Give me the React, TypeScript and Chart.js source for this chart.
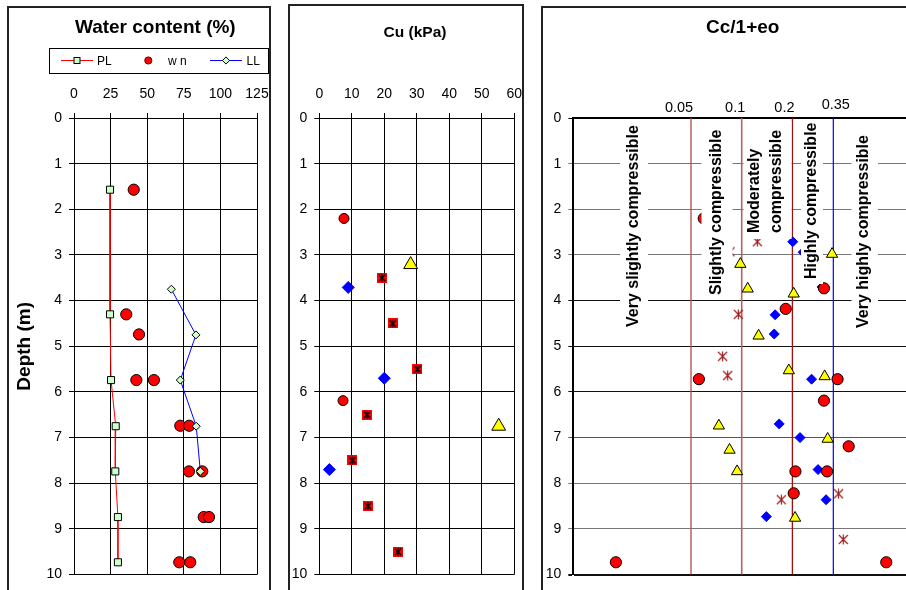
import React, { useEffect, useRef } from 'react';
import { Chart, registerables } from 'chart.js';

Chart.register(...registerables);

const FONT = "'Liberation Sans', Arial, Helvetica, sans-serif";
Chart.defaults.font.family = FONT;
Chart.defaults.color = '#000';

// ---------- shared depth axis ----------
const depthAxisTicks = [0, 1, 2, 3, 4, 5, 6, 7, 8, 9, 10];

// ---------- Panel 1: Water content (%) ----------
const wcAxisTicks = [0, 25, 50, 75, 100, 125];
const plValues = [24.6, 24.6, 25.3, 28.5, 28.2, 30.0, 30.0];
const plDepths = [1.57, 4.3, 5.74, 6.75, 7.74, 8.74, 9.73];
const wnValues = [40.8, 35.7, 44.4, 42.6, 54.6, 72.6, 78.7, 78.5, 87.6, 88.6, 92.2, 71.9, 79.4];
const wnDepths = [1.57, 4.3, 4.74, 5.74, 5.74, 6.74, 6.74, 7.74, 7.74, 8.74, 8.74, 9.73, 9.73];
const llValues = [66.5, 83.3, 72.6, 83.5, 86.3];
const llDepths = [3.75, 4.75, 5.74, 6.75, 7.74];

// ---------- Panel 2: Cu (kPa) ----------
const cuAxisTicks = [0, 10, 20, 30, 40, 50, 60];
const cuCircleValues = [7.6, 7.3];
const cuCircleDepths = [2.2, 6.19];
const cuTriangleValues = [28.1, 55.2];
const cuTriangleDepths = [3.21, 6.75];
const cuSquareValues = [19.3, 22.6, 30.2, 14.7, 10.2, 15.0, 24.2];
const cuSquareDepths = [3.5, 4.5, 5.5, 6.5, 7.5, 8.5, 9.5];
const cuDiamondValues = [8.9, 20.0, 3.1];
const cuDiamondDepths = [3.71, 5.7, 7.7];

// ---------- Panel 3: Cc/1+eo ----------
const ccBounds = [0.05, 0.1, 0.2, 0.35];
const ccBoundLabels = ['0.05', '0.1', '0.2', '0.35'];
const ccClasses = [
  ['Very slightly compressible'],
  ['Slightly compressible'],
  ['Moderately', 'compressible'],
  ['Highly compressible'],
  ['Very highly compressible'],
];
const ccCircleValues = [0.0595, 0.308, 0.1825, 0.0557, 0.371, 0.308, 0.432, 0.2085, 0.3215, 0.2036, 0.0179, 0.722];
const ccCircleDepths = [2.2, 3.73, 4.18, 5.72, 5.72, 6.19, 7.19, 7.74, 7.74, 8.22, 9.73, 9.73];
const ccTriangleValues = [0.344, 0.0982, 0.1086, 0.2036, 0.126, 0.1905, 0.311, 0.0732, 0.324, 0.0847, 0.0939, 0.2075];
const ccTriangleDepths = [2.98, 3.2, 3.74, 3.85, 4.77, 5.53, 5.66, 6.74, 7.03, 7.27, 7.74, 8.76];
const ccDiamondValues = [0.201, 0.2316, 0.3, 0.158, 0.156, 0.26, 0.167, 0.222, 0.284, 0.317, 0.14];
const ccDiamondDepths = [2.71, 2.94, 3.7, 4.31, 4.73, 5.72, 6.7, 7.0, 7.7, 8.36, 8.73];
const ccStarValues = [0.1238, 0.0852, 0.0955, 0.077, 0.0825, 0.376, 0.172, 0.401];
const ccStarDepths = [2.71, 2.93, 4.3, 5.22, 5.64, 8.23, 8.36, 9.23];

// ---------- layout / style constants ----------
const CANVAS1 = { left: 0, width: 280 };
const CANVAS2 = { left: 280, width: 262 };
const CANVAS3 = { left: 542, width: 380 };
const PLOT_TOP = 118;
const PLOT_BOTTOM_PAD = 12;
const ccBoundColors = ['#b04c4c', '#b86060', '#a01010', '#0000ff'];
const ccBoundWidths = [1.3, 1.6, 1.3, 1.2];
const ccLabelOffsets = [[-12, 0], [-6.5, 0], [-8, 0], [2.5, -3]];
// boxes (page coords): x0, x1, y0, y1 ; text column centres and bottom of text
const ccBoxes = [
  { x0: 620, x1: 648, y0: 119, y1: 331, cols: [633], bottom: 327 },
  { x0: 701.5, x1: 732.5, y0: 121, y1: 299, cols: [716], bottom: 295 },
  { x0: 743.5, x1: 791.5, y0: 121, y1: 239, cols: [754, 776], bottom: 233 },
  { x0: 801, x1: 823, y0: 119, y1: 284, cols: [811], bottom: 279 },
  { x0: 851.5, x1: 878, y0: 121, y1: 333, cols: [862.5], bottom: 328 },
];

const pts = (xs: number[], ys: number[]) => xs.map((x, i) => ({ x, y: ys[i] }));
const axisFont = { family: FONT, size: 14 };

function makeStar(size: number, color: string, lw: number, arm: number, bg?: string) {
  const c = document.createElement('canvas');
  c.width = size;
  c.height = size;
  const g = c.getContext('2d')!;
  if (bg) {
    g.fillStyle = bg;
    g.fillRect(0, 0, size, size);
  }
  const m = size / 2;
  g.strokeStyle = color;
  g.lineWidth = lw;
  g.beginPath();
  g.moveTo(m - arm, m - arm);
  g.lineTo(m + arm, m + arm);
  g.moveTo(m + arm, m - arm);
  g.lineTo(m - arm, m + arm);
  g.moveTo(m, m - arm - 0.5);
  g.lineTo(m, m + arm + 0.5);
  g.stroke();
  return c;
}

function depthScale(width: number, gridColor: any, gridWidth: any, title?: any) {
  return {
    type: 'linear',
    reverse: true,
    min: 0,
    max: 10,
    afterBuildTicks: (s: any) => {
      s.ticks = depthAxisTicks.map((v) => ({ value: v }));
    },
    ticks: { padding: 7, color: '#000', font: axisFont },
    grid: { color: gridColor, lineWidth: gridWidth, tickLength: 5, drawTicks: true },
    border: { color: '#000', width: 1 },
    title: title || { display: false },
    afterFit: (s: any) => {
      s.width = width;
    },
  };
}

function topLinearScale(max: number, tickValues: number[]) {
  return {
    type: 'linear',
    position: 'top',
    min: 0,
    max,
    afterBuildTicks: (s: any) => {
      s.ticks = tickValues.map((v) => ({ value: v }));
    },
    ticks: { padding: 10, color: '#000', font: axisFont },
    grid: { color: '#000', lineWidth: 1, tickLength: 5, drawTicks: true },
    border: { color: '#000', width: 1 },
    afterFit: (s: any) => {
      s.height = PLOT_TOP;
    },
  };
}

const baseOptions = {
  responsive: false,
  animation: false as const,
  events: [] as any[],
  plugins: { legend: { display: false }, tooltip: { enabled: false } },
};

function config1(): any {
  const panelPlugin = {
    id: 'panel1Deco',
    afterDraw(chart: any) {
      const ctx = chart.ctx;
      ctx.save();
      ctx.fillStyle = '#000';
      ctx.font = `bold 19px ${FONT}`;
      ctx.textAlign = 'center';
      ctx.textBaseline = 'middle';
      ctx.fillText('Water content (%)', 155.3, 28);
      // legend
      ctx.lineWidth = 1;
      ctx.strokeStyle = '#000';
      ctx.strokeRect(49.5, 48.5, 219, 25);
      const ly = 60.5;
      ctx.strokeStyle = '#ff0000';
      ctx.beginPath();
      ctx.moveTo(61, ly);
      ctx.lineTo(93, ly);
      ctx.stroke();
      ctx.fillStyle = '#ccffcc';
      ctx.strokeStyle = '#000';
      ctx.fillRect(74, ly - 3, 6, 6);
      ctx.strokeRect(74, ly - 3, 6, 6);
      ctx.beginPath();
      ctx.arc(148.3, ly, 3.6, 0, Math.PI * 2);
      ctx.fillStyle = '#ff0000';
      ctx.fill();
      ctx.strokeStyle = '#600';
      ctx.stroke();
      ctx.strokeStyle = '#0000ff';
      ctx.beginPath();
      ctx.moveTo(210, ly);
      ctx.lineTo(242, ly);
      ctx.stroke();
      ctx.beginPath();
      ctx.moveTo(226, ly - 3.6);
      ctx.lineTo(229.6, ly);
      ctx.lineTo(226, ly + 3.6);
      ctx.lineTo(222.4, ly);
      ctx.closePath();
      ctx.fillStyle = '#ccffcc';
      ctx.fill();
      ctx.strokeStyle = '#000';
      ctx.stroke();
      ctx.fillStyle = '#000';
      ctx.font = `12px ${FONT}`;
      ctx.textAlign = 'left';
      ctx.fillText('PL', 97, ly + 1);
      ctx.fillText('w n', 168, ly + 1);
      ctx.fillText('LL', 246.5, ly + 1);
      ctx.restore();
    },
  };
  return {
    type: 'scatter',
    data: {
      datasets: [
        {
          label: 'LL',
          data: pts(llValues, llDepths),
          showLine: true,
          borderColor: '#0000ff',
          borderWidth: 1,
          tension: 0,
          pointStyle: 'rectRot',
          pointRadius: 4,
          pointBackgroundColor: '#ccffcc',
          pointBorderColor: '#000',
          pointBorderWidth: 1,
          order: 0,
        },
        {
          label: 'PL',
          data: pts(plValues, plDepths),
          showLine: true,
          borderColor: '#ff0000',
          borderWidth: 1,
          tension: 0,
          pointStyle: 'rect',
          pointRadius: 5,
          pointBackgroundColor: '#ccffcc',
          pointBorderColor: '#000',
          pointBorderWidth: 1,
          order: 1,
        },
        {
          label: 'w n',
          data: pts(wnValues, wnDepths),
          showLine: false,
          pointStyle: 'circle',
          pointRadius: 5.6,
          pointBackgroundColor: '#ff0000',
          pointBorderColor: '#000',
          pointBorderWidth: 1,
          order: 2,
        },
      ],
    },
    options: {
      ...baseOptions,
      layout: { padding: { left: 9, top: 0, right: CANVAS1.width - 257, bottom: PLOT_BOTTOM_PAD } },
      scales: {
        x: topLinearScale(125, wcAxisTicks),
        y: depthScale(65, '#000', 1, {
          display: true,
          text: 'Depth (m)',
          color: '#000',
          font: { family: FONT, size: 19, weight: 'bold' },
          padding: { top: 4, bottom: 4 },
        }),
      },
    },
    plugins: [panelPlugin],
  };
}

function config2(): any {
  const squareStar = makeStar(10, '#000', 1.3, 3.2, '#ff0000');
  const panelPlugin = {
    id: 'panel2Deco',
    afterDraw(chart: any) {
      const ctx = chart.ctx;
      ctx.save();
      ctx.fillStyle = '#000';
      ctx.font = `bold 15.5px ${FONT}`;
      ctx.textAlign = 'center';
      ctx.textBaseline = 'middle';
      ctx.fillText('Cu (kPa)', 415 - CANVAS2.left, 32.5);
      ctx.restore();
    },
  };
  return {
    type: 'scatter',
    data: {
      datasets: [
        {
          label: 'circle',
          data: pts(cuCircleValues, cuCircleDepths),
          pointStyle: 'circle',
          pointRadius: 5,
          pointBackgroundColor: '#ff0000',
          pointBorderColor: '#000',
          pointBorderWidth: 1,
        },
        {
          label: 'triangle',
          data: pts(cuTriangleValues, cuTriangleDepths),
          pointStyle: 'triangle',
          pointRadius: 8,
          pointBackgroundColor: '#ffff00',
          pointBorderColor: '#000',
          pointBorderWidth: 1,
        },
        {
          label: 'square',
          data: pts(cuSquareValues, cuSquareDepths),
          pointStyle: squareStar,
          pointRadius: 5,
        },
        {
          label: 'diamond',
          data: pts(cuDiamondValues, cuDiamondDepths),
          pointStyle: 'rectRot',
          pointRadius: 6,
          pointBackgroundColor: '#0000ff',
          pointBorderColor: '#0000ff',
          pointBorderWidth: 1,
        },
      ],
    },
    options: {
      ...baseOptions,
      layout: { padding: { left: 10, top: 0, right: CANVAS2.width - (514.3 - CANVAS2.left), bottom: PLOT_BOTTOM_PAD } },
      scales: {
        x: topLinearScale(60, cuAxisTicks),
        y: depthScale(319.3 - CANVAS2.left - 10, '#000', 1),
      },
    },
    plugins: [panelPlugin],
  };
}

function config3(): any {
  const star = makeStar(11, '#9b1f1f', 1.2, 4.5);
  const gridColor = (c: any) => {
    const v = c.tick ? c.tick.value : 0;
    if (v === 0 || v === 10 || v === 4 || v === 5 || v === 6) return '#111';
    if (v === 7) return '#555';
    return '#777';
  };
  const gridWidth = (c: any) => {
    const v = c.tick ? c.tick.value : 0;
    return v === 10 ? 2 : 1;
  };
  const panelPlugin = {
    id: 'panel3Deco',
    beforeDatasetsDraw(chart: any) {
      const ctx = chart.ctx;
      const xs = chart.scales.x;
      const { top, bottom } = chart.chartArea;
      ctx.save();
      ccBounds.forEach((v, i) => {
        const px = xs.getPixelForValue(v);
        ctx.strokeStyle = ccBoundColors[i];
        ctx.lineWidth = ccBoundWidths[i];
        ctx.beginPath();
        ctx.moveTo(px, top);
        ctx.lineTo(px, bottom);
        ctx.stroke();
      });
      ctx.restore();
    },
    afterDatasetsDraw(chart: any) {
      const ctx = chart.ctx;
      const ox = CANVAS3.left;
      ctx.save();
      ccBoxes.forEach((b, i) => {
        ctx.fillStyle = '#fff';
        ctx.fillRect(b.x0 - ox, b.y0, b.x1 - b.x0, b.y1 - b.y0);
        ctx.fillStyle = '#000';
        ctx.font = `bold 16px ${FONT}`;
        ctx.textAlign = 'left';
        ctx.textBaseline = 'middle';
        ccClasses[i].forEach((line, j) => {
          ctx.save();
          ctx.translate(b.cols[j] - ox, b.bottom);
          ctx.rotate(-Math.PI / 2);
          ctx.fillText(line, 0, 1);
          ctx.restore();
        });
      });
      ctx.restore();
    },
    afterDraw(chart: any) {
      const ctx = chart.ctx;
      const xs = chart.scales.x;
      ctx.save();
      ctx.fillStyle = '#000';
      ctx.font = `bold 19px ${FONT}`;
      ctx.textAlign = 'center';
      ctx.textBaseline = 'middle';
      ctx.fillText('Cc/1+eo', 742.7 - CANVAS3.left, 27.5);
      ctx.font = `14.5px ${FONT}`;
      ccBounds.forEach((v, i) => {
        const px = xs.getPixelForValue(v);
        ctx.fillText(ccBoundLabels[i], px + ccLabelOffsets[i][0], 107.5 + ccLabelOffsets[i][1]);
      });
      ctx.restore();
    },
  };
  return {
    type: 'scatter',
    data: {
      datasets: [
        {
          label: 'circle',
          data: pts(ccCircleValues, ccCircleDepths),
          pointStyle: 'circle',
          pointRadius: 5.6,
          pointBackgroundColor: '#ff0000',
          pointBorderColor: '#000',
          pointBorderWidth: 1,
          order: 0,
        },
        {
          label: 'triangle',
          data: pts(ccTriangleValues, ccTriangleDepths),
          pointStyle: 'triangle',
          pointRadius: 6.5,
          pointBackgroundColor: '#ffff00',
          pointBorderColor: '#000',
          pointBorderWidth: 1,
          order: 1,
        },
        {
          label: 'diamond',
          data: pts(ccDiamondValues, ccDiamondDepths),
          pointStyle: 'rectRot',
          pointRadius: 5,
          pointBackgroundColor: '#0000ff',
          pointBorderColor: '#0000ff',
          pointBorderWidth: 1,
          order: 2,
        },
        {
          label: 'star',
          data: pts(ccStarValues, ccStarDepths),
          pointStyle: star,
          pointRadius: 5,
          order: 3,
        },
      ],
    },
    options: {
      ...baseOptions,
      layout: { padding: { left: 2, top: 0, right: CANVAS3.width - (910.1 - CANVAS3.left), bottom: PLOT_BOTTOM_PAD } },
      scales: {
        x: {
          type: 'logarithmic',
          position: 'top',
          min: 0.01,
          max: 1,
          afterBuildTicks: (s: any) => {
            s.ticks = ccBounds.map((v) => ({ value: v }));
          },
          ticks: { display: false },
          grid: { display: false, drawTicks: false },
          border: { display: true, color: '#000', width: 2 },
          afterFit: (s: any) => {
            s.height = PLOT_TOP;
          },
        },
        y: {
          ...depthScale(573.3 - CANVAS3.left - 2, gridColor, gridWidth),
          border: { color: '#000', width: 2 },
        },
      },
    },
    plugins: [panelPlugin],
  };
}

export default function App() {
  const r1 = useRef<HTMLCanvasElement>(null);
  const r2 = useRef<HTMLCanvasElement>(null);
  const r3 = useRef<HTMLCanvasElement>(null);

  useEffect(() => {
    const charts = [
      new Chart(r1.current!, config1()),
      new Chart(r2.current!, config2()),
      new Chart(r3.current!, config3()),
    ];
    return () => charts.forEach((c) => c.destroy());
  }, []);

  const frame = (left: number, top: number, width: number): React.CSSProperties => ({
    position: 'absolute',
    left,
    top,
    width,
    height: 700,
    border: '2px solid #222',
    boxSizing: 'border-box',
  });
  const cv = (left: number): React.CSSProperties => ({ position: 'absolute', left, top: 0 });

  return (
    <div
      style={{
        position: 'fixed',
        left: 0,
        top: 0,
        width: 906,
        height: 590,
        overflow: 'hidden',
        background: '#fff',
      }}
    >
      <div style={frame(7, 6, 264)} />
      <div style={frame(287.5, 4, 236)} />
      <div style={frame(540.7, 5.7, 500)} />
      <canvas ref={r1} width={CANVAS1.width} height={590} style={cv(CANVAS1.left)} />
      <canvas ref={r2} width={CANVAS2.width} height={590} style={cv(CANVAS2.left)} />
      <canvas ref={r3} width={CANVAS3.width} height={590} style={cv(CANVAS3.left)} />
    </div>
  );
}
